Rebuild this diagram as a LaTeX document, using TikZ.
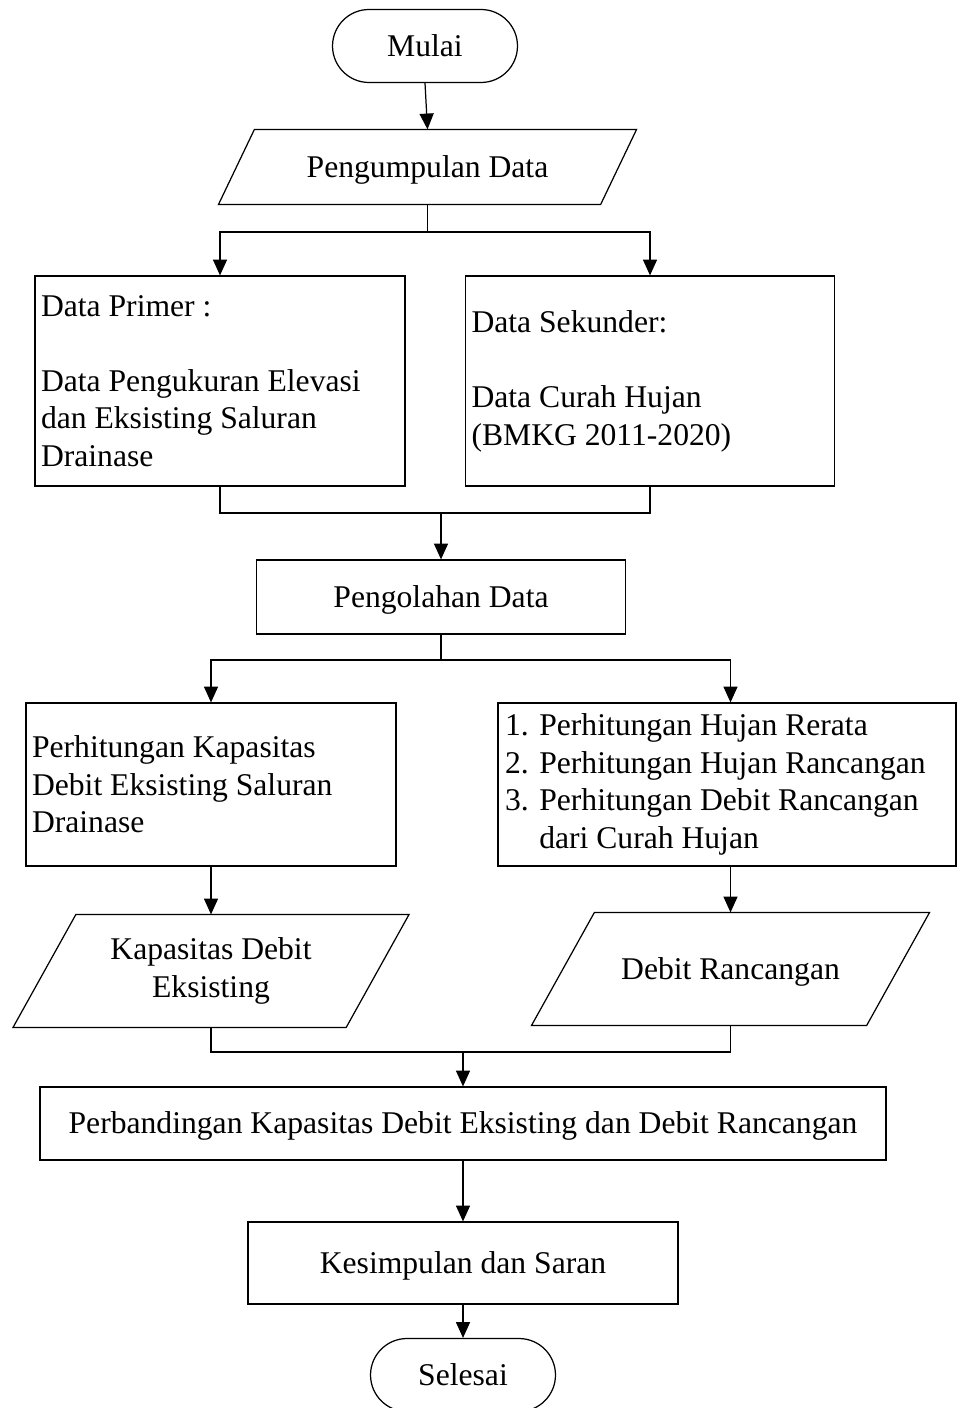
\documentclass[tikz,border=0pt]{standalone}
\usepackage{fontspec}
\setmainfont{Liberation Serif}
\usetikzlibrary{arrows.meta, shapes.misc}

\begin{document}
\begin{tikzpicture}[x=0.02cm, y=-0.02cm, line width=0.7pt,
    font=\fontsize{18}{21.4}\selectfont,
    arrow/.style={-{Triangle[length=9pt, width=8pt]}},
    baris/.style={text height=16.2pt, text depth=4.3pt},
    terminal/.style={draw, rounded rectangle, baris, minimum width=3.7cm, minimum height=1.46cm, inner sep=0pt},
    proses/.style={draw, rectangle, minimum height=1.48cm, inner sep=0pt},
    iobox/.style={rectangle, inner sep=0pt, align=center},
  ]
  \useasboundingbox (0,0) rectangle (957,1408);

  % Mulai dan pengumpulan data
  \node[terminal] (mulai) at (425,46) {Mulai};
  \node[iobox, baris, minimum width=8.34cm, minimum height=1.48cm] (kumpul) at (427.5,167) {Pengumpulan Data};

  % Data primer dan sekunder
  \node[proses, minimum width=7.4cm, minimum height=4.2cm, text width=7.16cm, align=flush left] (primer) at (220,381)
    {Data Primer :\\[\baselineskip]Data Pengukuran Elevasi\\dan Eksisting Saluran\\Drainase};
  \node[proses, minimum width=7.38cm, minimum height=4.2cm, text width=7.14cm, align=flush left] (sekunder) at (650,381)
    {Data Sekunder:\\[\baselineskip]Data Curah Hujan\\(BMKG 2011-2020)};

  % Pengolahan data
  \node[proses, baris, minimum width=7.38cm] (olah) at (441,597) {Pengolahan Data};

  % Perhitungan
  \node[proses, minimum width=7.4cm, minimum height=3.26cm, text width=7.16cm, align=flush left] (hitungkap) at (211,784.5)
    {Perhitungan Kapasitas\\Debit Eksisting Saluran\\Drainase};
  \node[proses, minimum width=9.16cm, minimum height=3.26cm, text width=8.88cm, align=flush left] (hitunghujan) at (727,784.5)
    {1. Perhitungan Hujan Rerata\\
     2. Perhitungan Hujan Rancangan\\
     3. Perhitungan Debit Rancangan\\
     \phantom{3. }dari Curah Hujan};

  % Hasil
  \node[iobox, minimum width=7.9cm, minimum height=2.24cm] (kapasitas) at (211,971) {Kapasitas Debit\\Eksisting};
  \node[iobox, baris, minimum width=7.94cm, minimum height=2.24cm] (debitran) at (730.5,969) {Debit Rancangan};
  \foreach \n/\d in {kumpul/0.72cm, kapasitas/1.26cm, debitran/1.26cm}
    \draw ([xshift=\d]\n.north west) -- (\n.north east) -- ([xshift=-\d]\n.south east) -- (\n.south west) -- cycle;

  % Perbandingan, kesimpulan, selesai
  \node[proses, baris, minimum width=16.92cm, minimum height=1.46cm] (banding) at (463,1123.5)
    {Perbandingan Kapasitas Debit Eksisting dan Debit Rancangan};
  \node[proses, baris, minimum width=8.6cm, minimum height=1.64cm] (simpul) at (463,1263) {Kesimpulan dan Saran};
  \node[terminal] (selesai) at (463,1375) {Selesai};

  % Garis alir
  \coordinate (cabang1) at (427.5,232);
  \coordinate (gabung1) at (441,513);
  \coordinate (cabang2) at (441,660);
  \coordinate (gabung2) at (463,1052);

  \draw[arrow] (mulai.south) -- (kumpul.north);
  \draw (kumpul.south) -- (cabang1);
  \draw[arrow] (cabang1) -| (primer.north);
  \draw[arrow] (cabang1) -| (sekunder.north);

  \draw (primer.south) |- (gabung1) -| (sekunder.south);
  \draw[arrow] (gabung1) -- (olah.north);

  \draw (olah.south) -- (cabang2);
  \draw[arrow] (cabang2) -| (hitungkap.north);
  \draw[arrow] (cabang2) -| (debitran.north |- hitunghujan.north);

  \draw[arrow] (hitungkap.south) -- (kapasitas.north);
  \draw[arrow] (debitran.north |- hitunghujan.south) -- (debitran.north);

  \draw (kapasitas.south) |- (gabung2) -| (debitran.south);
  \draw[arrow] (gabung2) -- (banding.north);
  \draw[arrow] (banding.south) -- (simpul.north);
  \draw[arrow] (simpul.south) -- (selesai.north);
\end{tikzpicture}
\end{document}
